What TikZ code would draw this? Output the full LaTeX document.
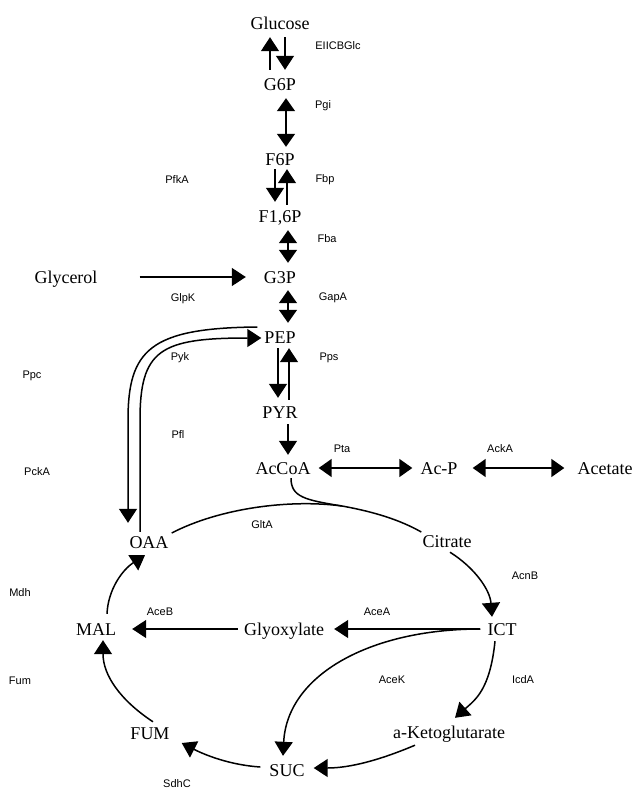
\documentclass[tikz,border=0pt]{standalone}
\usepackage{fontspec}
\setmainfont{Liberation Serif}
\newfontfamily\enzfont{Liberation Sans}
\usetikzlibrary{arrows.meta}
\begin{document}
\begin{tikzpicture}[x=1pt,y=-1pt,
  met/.style={font=\fontsize{18}{20}\selectfont, inner sep=0pt, text height=12pt, text depth=0pt},
  enz/.style={font=\enzfont\fontsize{11}{13}\selectfont, inner sep=0pt},
  arr/.style={line width=1.5pt, -{Triangle[width=18pt,length=14pt]}},
  darr/.style={line width=1.5pt, {Triangle[width=18pt,length=13pt]}-{Triangle[width=18pt,length=13pt]}},
  link/.style={line width=1.5pt}]
\useasboundingbox (0,0) rectangle (638,791);

% metabolites
\node[met] (Glucose) at (280,24) {Glucose};
\node[met] (G6P) at (280,85) {G6P};
\node[met] (F6P) at (280,160) {F6P};
\node[met] (F16P) at (280,217) {F1,6P};
\node[met] (G3P) at (280,277) {G3P};
\node[met] (PEP) at (280,337) {PEP};
\node[met] (PYR) at (280,412) {PYR};
\node[met] (AcCoA) at (283,468) {AcCoA};
\node[met] (AcP) at (439,468) {Ac-P};
\node[met] (Acetate) at (605,468) {Acetate};
\node[met] (Glycerol) at (66,277) {Glycerol};
\node[met] (Citrate) at (447,541) {Citrate};
\node[met] (OAA) at (149,542) {OAA};
\node[met] (ICT) at (502,629) {ICT};
\node[met] (Glyox) at (284,629) {Glyoxylate};
\node[met] (MAL) at (96,629) {MAL};
\node[met] (FUM) at (150,733) {FUM};
\node[met] (SUC) at (287,770) {SUC};
\node[met] (aKG) at (449,732) {a-Ketoglutarate};
\coordinate (m) at (342,506);

% enzymes
\node[enz] (EIICBGlc) at (338,46) {EIICBGlc};
\node[enz] (Pgi) at (323,106) {Pgi};
\node[enz] (PfkA) at (177,180) {PfkA};
\node[enz] (Fbp) at (325,180) {Fbp};
\node[enz] (Fba) at (327,239) {Fba};
\node[enz] (GlpK) at (183,299) {GlpK};
\node[enz] (GapA) at (333,298) {GapA};
\node[enz] (Pyk) at (180,358) {Pyk};
\node[enz] (Pps) at (329,358) {Pps};
\node[enz] (Ppc) at (32,376) {Ppc};
\node[enz] (Pfl) at (178,435) {Pfl};
\node[enz] (PckA) at (37,472) {PckA};
\node[enz] (Pta) at (342,449) {Pta};
\node[enz] (AckA) at (500,449) {AckA};
\node[enz] (GltA) at (262,525) {GltA};
\node[enz] (AcnB) at (525,576) {AcnB};
\node[enz] (Mdh) at (20,593) {Mdh};
\node[enz] (AceB) at (160,612) {AceB};
\node[enz] (AceA) at (377,612) {AceA};
\node[enz] (AceK) at (392,680) {AceK};
\node[enz] (IcdA) at (523,680) {IcdA};
\node[enz] (Fum) at (20,681) {Fum};
\node[enz] (SdhC) at (177,784) {SdhC};

% glycolysis column
\draw[arr] ([xshift=5pt,yshift=-7pt]Glucose.south) -- ([xshift=5pt,yshift=9pt]G6P.north);
\draw[arr] ([xshift=-10pt,yshift=9pt]G6P.north) -- ([xshift=-10pt,yshift=-7pt]Glucose.south);
\draw[darr] ([xshift=6pt,yshift=-7pt]G6P.south) -- ([xshift=6pt,yshift=7pt]F6P.north);
\draw[arr] ([xshift=-5pt,yshift=-3pt]F6P.south) -- ([xshift=-5pt,yshift=9pt]F16P.north);
\draw[arr] ([xshift=7pt,yshift=6pt]F16P.north) -- ([xshift=7pt,yshift=-3pt]F6P.south);
\draw[darr] ([xshift=8pt,yshift=-7pt]F16P.south) -- ([xshift=8pt,yshift=8pt]G3P.north);
\draw[darr] ([xshift=8pt,yshift=-7pt]G3P.south) -- ([xshift=8pt,yshift=8pt]PEP.north);
\draw[arr] ([xshift=-2pt,yshift=-5pt]PEP.south) -- ([xshift=-2pt,yshift=8pt]PYR.north);
\draw[arr] ([xshift=9pt,yshift=6pt]PYR.north) -- ([xshift=9pt,yshift=-5pt]PEP.south);
\draw[arr] ([xshift=8pt,yshift=-6pt]PYR.south) -- ([xshift=5pt,yshift=7pt]AcCoA.north);
\draw[arr] ([xshift=42pt]Glycerol.east) -- ([xshift=-18pt]G3P.west);

% acetate branch
\draw[darr] ([xshift=8pt]AcCoA.east) -- ([xshift=-8pt]AcP.west);
\draw[darr] ([xshift=15pt]AcP.east) -- ([xshift=-13pt]Acetate.west);

% anaplerotic loops
\draw[arr] ([xshift=-7pt,yshift=10pt]PEP.west) .. controls (150,328) and (128,350) .. (128,420)
  -- ([xshift=-21pt,yshift=13pt]OAA.north);
\draw[arr] ([xshift=-9pt,yshift=4pt]OAA.north) -- (140,420)
  .. controls (140,350) and (160,338) .. ([xshift=-3pt,yshift=-1pt]PEP.west);

% citrate synthase
\draw[link] ([xshift=3pt,yshift=9pt]OAA.east) .. controls (220,508) and (290,499) .. (m);
\draw[link] ([xshift=8pt,yshift=-4pt]AcCoA.south) .. controls (291,497) and (305,500) .. (m);
\draw[link] (m) .. controls (375,512) and (400,520) .. ([xshift=-1pt,yshift=9pt]Citrate.west);

% TCA cycle
\draw[arr] ([xshift=3pt,yshift=-5pt]Citrate.south) .. controls (475,568) and (490,590) .. ([xshift=-10pt,yshift=6pt]ICT.north);
\draw[arr] ([xshift=-7pt]ICT.west) -- ([xshift=10pt]Glyox.east);
\draw[arr] ([xshift=-7pt]ICT.west) .. controls (370,629) and (287,675) .. ([xshift=-4pt,yshift=8pt]SUC.north);
\draw[arr] ([xshift=-7pt,yshift=-6pt]ICT.south) .. controls (490,690) and (475,700) .. ([xshift=6pt,yshift=8pt]aKG.north);
\draw[arr] ([xshift=-34pt,yshift=-7pt]aKG.south) .. controls (380,760) and (350,768) .. ([xshift=9pt,yshift=2pt]SUC.east);
\draw[arr] ([xshift=-9pt,yshift=3pt]SUC.west) .. controls (230,765) and (205,755) .. ([xshift=12pt,yshift=-10pt]FUM.east);
\draw[arr] ([xshift=3pt,yshift=5pt]FUM.north) .. controls (120,700) and (103,675) .. ([xshift=7pt,yshift=-5pt]MAL.south);
\draw[arr] ([xshift=11pt,yshift=9pt]MAL.north) .. controls (108,590) and (122,570) .. ([xshift=-4pt,yshift=-7pt]OAA.south);
\draw[arr] ([xshift=-6pt]Glyox.west) -- ([xshift=16pt]MAL.east);
\end{tikzpicture}
\end{document}
